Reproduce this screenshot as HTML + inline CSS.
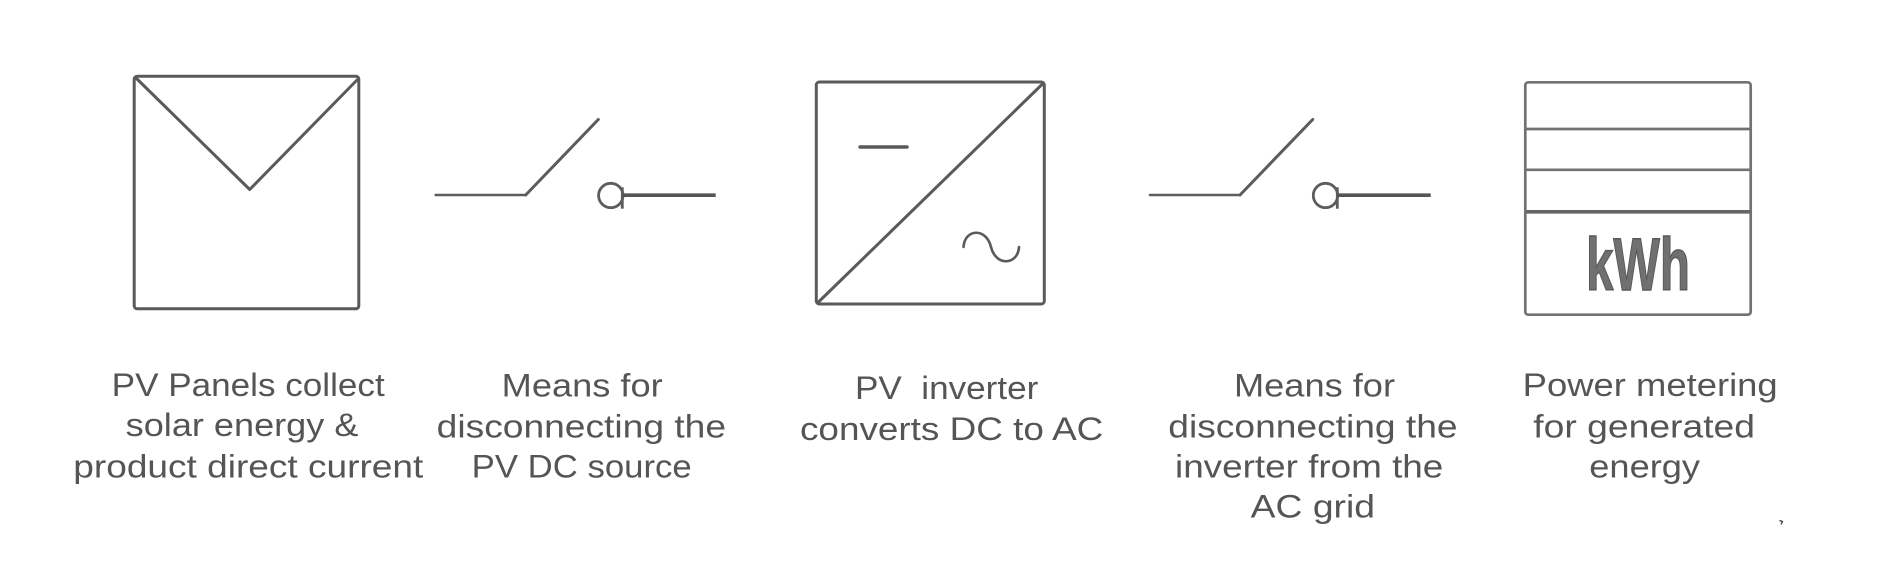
<!DOCTYPE html>
<html>
<head>
<meta charset="utf-8">
<style>
  html, body { margin:0; padding:0; background:#ffffff; }
  body { width:1898px; height:586px; overflow:hidden; }
  svg { display:block; }
  .lbl { font-family:"Liberation Sans", "DejaVu Sans", sans-serif; font-size:32px; fill:#555557; }
</style>
</head>
<body>
<svg width="1898" height="586" viewBox="0 0 1898 586" xmlns="http://www.w3.org/2000/svg">
  <rect x="0" y="0" width="1898" height="586" fill="#ffffff"/>

  <!-- PV Panel -->
  <g fill="none" stroke="#5a5a5a" stroke-width="3" stroke-linejoin="round" stroke-linecap="round">
    <rect x="134.2" y="76.2" width="224.6" height="232.6" rx="3"/>
    <polyline points="136,78 249.7,189.5 358,79"/>
  </g>

  <!-- Switch 1 -->
  <g fill="none" stroke="#5c5c5c" stroke-linecap="round">
    <line x1="435.7" y1="195" x2="525.7" y2="195" stroke-width="2.6"/>
    <line x1="525.7" y1="195" x2="598.3" y2="119.5" stroke-width="3"/>
    <circle cx="610.8" cy="195.5" r="12.2" stroke-width="2.8"/>
  </g>
  <line x1="622.3" y1="187.3" x2="622.3" y2="208.7" stroke="#5c5c5c" stroke-width="2.8"/>
  <line x1="622" y1="195.2" x2="715.7" y2="195.2" stroke="#555555" stroke-width="3.7"/>

  <!-- Inverter -->
  <g fill="none" stroke="#5a5a5a" stroke-width="3" stroke-linejoin="round" stroke-linecap="round">
    <rect x="816.3" y="82" width="228" height="222" rx="3"/>
    <line x1="818" y1="302.5" x2="1043" y2="83.5"/>
  </g>
  <line x1="860" y1="147" x2="907" y2="147" stroke="#5a5a5a" stroke-width="3.4" stroke-linecap="round"/>
  <path d="M963.5,247 C964.5,229 986,227 991,247 C996,267 1018,265 1019,247" fill="none" stroke="#5a5a5a" stroke-width="2.6" stroke-linecap="round"/>

  <!-- Switch 2 -->
  <g fill="none" stroke="#5c5c5c" stroke-linecap="round">
    <line x1="1150" y1="195" x2="1240" y2="195" stroke-width="2.6"/>
    <line x1="1240" y1="195" x2="1312.7" y2="119.5" stroke-width="3"/>
    <circle cx="1325.5" cy="195.5" r="12.2" stroke-width="2.8"/>
  </g>
  <line x1="1337.3" y1="187.3" x2="1337.3" y2="208.7" stroke="#5c5c5c" stroke-width="2.8"/>
  <line x1="1337" y1="195.2" x2="1430.7" y2="195.2" stroke="#555555" stroke-width="3.7"/>

  <!-- Meter -->
  <g fill="none" stroke="#727272" stroke-width="2.7" stroke-linecap="round">
    <rect x="1525.3" y="82.3" width="225.4" height="232.4" rx="3"/>
    <line x1="1526" y1="129" x2="1750" y2="129"/>
    <line x1="1526" y1="169.8" x2="1750" y2="169.8"/>
  </g>
  <line x1="1526" y1="211.8" x2="1750" y2="211.8" stroke="#666666" stroke-width="3.7"/>
  <text x="1586" y="290" textLength="104" lengthAdjust="spacingAndGlyphs" font-family="'Liberation Sans', 'DejaVu Sans', sans-serif" font-weight="bold" font-size="74" fill="#707070" stroke="#595959" stroke-width="1.4">kWh</text>

  <!-- Labels -->
  <text class="lbl" x="111.7" y="396" textLength="273" lengthAdjust="spacingAndGlyphs">PV Panels collect</text>
  <text class="lbl" x="125.7" y="436" textLength="232.7" lengthAdjust="spacingAndGlyphs">solar energy &amp;</text>
  <text class="lbl" x="73.3" y="477.5" textLength="350" lengthAdjust="spacingAndGlyphs">product direct current</text>

  <text class="lbl" x="501.7" y="396.7" textLength="161" lengthAdjust="spacingAndGlyphs">Means for</text>
  <text class="lbl" x="436.7" y="437.3" textLength="289.3" lengthAdjust="spacingAndGlyphs">disconnecting the</text>
  <text class="lbl" x="471.7" y="477.3" textLength="220" lengthAdjust="spacingAndGlyphs">PV DC source</text>

  <text class="lbl" x="855" y="399" textLength="183.3" lengthAdjust="spacingAndGlyphs" xml:space="preserve">PV  inverter</text>
  <text class="lbl" x="800" y="440" textLength="303.3" lengthAdjust="spacingAndGlyphs">converts DC to AC</text>

  <text class="lbl" x="1234" y="396.7" textLength="161" lengthAdjust="spacingAndGlyphs">Means for</text>
  <text class="lbl" x="1168.3" y="437.3" textLength="289.3" lengthAdjust="spacingAndGlyphs">disconnecting the</text>
  <text class="lbl" x="1175" y="477.3" textLength="268.3" lengthAdjust="spacingAndGlyphs">inverter from the</text>
  <text class="lbl" x="1250.7" y="517.3" textLength="124.3" lengthAdjust="spacingAndGlyphs">AC grid</text>

  <text class="lbl" x="1522.7" y="396" textLength="255" lengthAdjust="spacingAndGlyphs">Power metering</text>
  <text class="lbl" x="1533.3" y="437.3" textLength="221.7" lengthAdjust="spacingAndGlyphs">for generated</text>
  <text class="lbl" x="1589.3" y="477.3" textLength="110.7" lengthAdjust="spacingAndGlyphs">energy</text>

  <!-- tiny mark -->
  <path d="M1779.5,520.5 L1782.5,521.5 L1781,524.5" fill="none" stroke="#333333" stroke-width="1.2"/>
</svg>
</body>
</html>
